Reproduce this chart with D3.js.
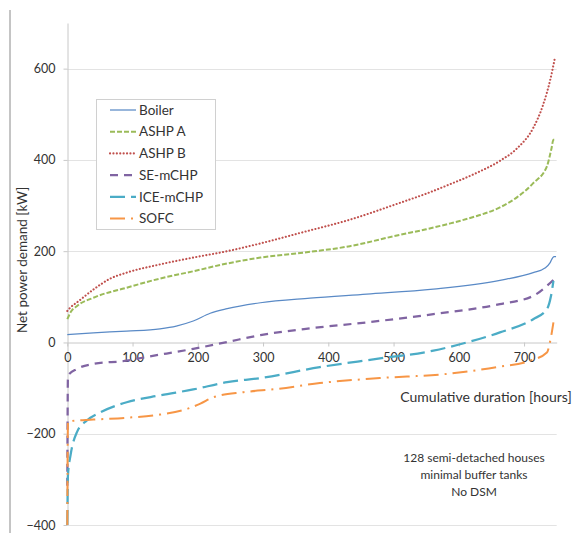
<!DOCTYPE html>
<html>
<head>
<meta charset="utf-8">
<script src="https://cdn.jsdelivr.net/npm/d3@7"></script>
<style>
  html, body { margin: 0; padding: 0; background: #fff; }
  svg { display: block; }
  text { font-family: Lato, "Open Sans", sans-serif; fill: #333; }
</style>
</head>
<body>
<svg id="chart" width="578" height="533"></svg>
<script>
// Load-duration curves: [cumulative hours, net power demand kW]
const boiler = [[0,17],[40,21],[91,25],[142,30],[167,36],[193,47],[219,64],[245,74],[296,87],[372,97],[459,106],[561,117],[663,136],[714,153],[732,163],[740,175],[744,186],[746,188],[749,188]];
const ashpA = [[0,51],[5,66],[15,80],[40,98],[91,120],[142,140],[193,156],[245,173],[296,186],[357,196],[433,211],[510,236],[550,248],[587,261],[625,276],[663,296],[689,318],[714,349],[735,386],[742,425],[745,444],[749,444]];
const ashpB = [[0,69],[5,77],[15,88],[40,116],[66,140],[91,153],[142,171],[193,186],[245,200],[296,217],[357,240],[433,269],[510,306],[550,326],[587,347],[625,370],[663,398],[689,425],[714,470],[729,520],[740,575],[747,622]];
const seMchp = [[0,-314],[1,-73],[15,-58],[40,-47],[91,-40],[117,-33],[193,-14],[245,1],[296,16],[372,31],[459,44],[561,62],[663,84],[714,102],[735,124],[747,140]];
const iceMchp = [[0,-400],[1,-291],[5,-247],[15,-196],[30,-171],[51,-153],[91,-131],[142,-116],[193,-103],[245,-87],[296,-78],[387,-54],[474,-36],[561,-18],[612,0],[663,22],[714,51],[735,73],[741,100],[745,135]];
const sofc = [[0,-400],[1,-173],[40,-169],[91,-165],[142,-158],[183,-146],[204,-134],[224,-120],[270,-109],[321,-102],[387,-89],[479,-78],[581,-69],[658,-54],[709,-40],[735,-22],[741,10],[745,44]];

const seriesNames = ["Boiler", "ASHP A", "ASHP B", "SE-mCHP", "ICE-mCHP", "SOFC"];
const seriesData = [boiler, ashpA, ashpB, seMchp, iceMchp, sofc];
const seriesColors = ["#5a8ac6", "#9bbb59", "#c0504d", "#8064a2", "#4bacc6", "#f79646"];
const seriesDash = [null, "5,2", "0.1,3.3", "8,6", "15,6", "15,6,2,6"];
const seriesWidth = [1.25, 2, 2.1, 2.25, 2.25, 2];

const xTicks = [0, 100, 200, 300, 400, 500, 600, 700];
const yTicks = [-400, -200, 0, 200, 400, 600];
const noteLines = ["128 semi-detached houses", "minimal buffer tanks", "No DSM"];

const svg = d3.select("#chart");

const x = d3.scaleLinear().domain([0, 750]).range([67.3, 556.7]);
const y = d3.scaleLinear().domain([-400, 700]).range([525, 23]);

// outer frame edge
svg.append("line").attr("x1", 10).attr("x2", 10).attr("y1", 10).attr("y2", 533)
  .attr("stroke", "#8a8a8a").attr("stroke-width", 1);

// horizontal gridlines
svg.append("g").selectAll("line").data(yTicks.filter(d => d !== 0)).join("line")
  .attr("x1", x(0)).attr("x2", x(750))
  .attr("y1", d => Math.round(y(d)) + 0.5).attr("y2", d => Math.round(y(d)) + 0.5)
  .attr("stroke", "#e3e3e3").attr("stroke-width", 1);

// y axis
const yAxis = svg.append("g").attr("transform", `translate(${Math.round(x(0)) + 0.5},0)`)
  .call(d3.axisLeft(y).tickValues(yTicks).tickSize(4).tickSizeOuter(0).tickPadding(8));
yAxis.select(".domain").attr("stroke", "#c8c8c8");
yAxis.selectAll(".tick line").attr("stroke", "#c8c8c8");
yAxis.selectAll(".tick text").style("font-size", "12.5px").style("font-family", "Lato, sans-serif").attr("fill", "#333");

// x axis sits on the zero line
const xAxis = svg.append("g").attr("transform", `translate(0,${Math.round(y(0)) + 0.5})`)
  .call(d3.axisBottom(x).tickValues(xTicks).tickSize(4).tickSizeOuter(0).tickPadding(7));
xAxis.select(".domain").attr("stroke", "#c8c8c8");
xAxis.selectAll(".tick line").attr("stroke", "#c8c8c8");
xAxis.selectAll(".tick text").style("font-size", "12.5px").style("font-family", "Lato, sans-serif").attr("fill", "#333");

// curves
const line = d3.line().x(d => x(d[0])).y(d => y(d[1])).curve(d3.curveMonotoneX);
svg.append("g").selectAll("path").data(seriesData).join("path")
  .attr("d", line)
  .attr("fill", "none")
  .attr("stroke", (d, i) => seriesColors[i])
  .attr("stroke-width", (d, i) => seriesWidth[i])
  .attr("stroke-dasharray", (d, i) => seriesDash[i])
  .attr("stroke-linecap", (d, i) => i === 2 ? "round" : "butt")
  .attr("stroke-linejoin", "round");

// axis titles
svg.append("text")
  .attr("transform", "translate(27,260) rotate(-90)")
  .attr("text-anchor", "middle")
  .style("font-size", "13.5px")
  .text("Net power demand [kW]");

svg.append("text")
  .attr("x", 486).attr("y", 401.5)
  .attr("text-anchor", "middle")
  .style("font-size", "14px")
  .text("Cumulative duration [hours]");

// scenario note
svg.append("g").selectAll("text").data(noteLines).join("text")
  .attr("x", 474).attr("y", (d, i) => 462 + i * 17)
  .attr("text-anchor", "middle")
  .style("font-size", "12px")
  .text(d => d);

// legend
const legend = svg.append("g");
legend.append("rect")
  .attr("x", 96.5).attr("y", 99.5).attr("width", 119).attr("height", 130)
  .attr("fill", "#fff").attr("stroke", "#d0d0d0");
const rows = legend.selectAll("g.row").data(seriesNames).join("g")
  .attr("class", "row")
  .attr("transform", (d, i) => `translate(0,${110 + i * 21.7})`);
rows.append("line")
  .attr("x1", 110).attr("x2", 136).attr("y1", 0).attr("y2", 0)
  .attr("stroke", (d, i) => seriesColors[i])
  .attr("stroke-width", (d, i) => seriesWidth[i])
  .attr("stroke-dasharray", (d, i) => seriesDash[i])
  .attr("stroke-linecap", (d, i) => i === 2 ? "round" : "butt");
rows.append("text")
  .attr("x", 139).attr("y", 0).attr("dy", "0.35em")
  .style("font-size", "13.5px")
  .text(d => d);
</script>
</body>
</html>
